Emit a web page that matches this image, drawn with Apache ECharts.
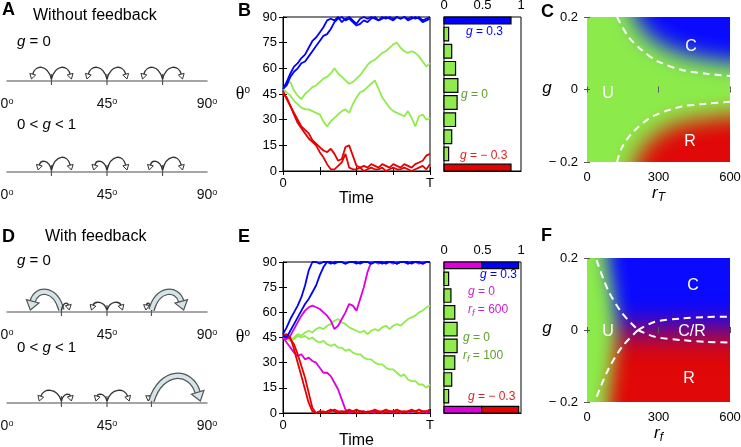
<!DOCTYPE html>
<html>
<head>
<meta charset="utf-8">
<script src="https://cdn.jsdelivr.net/npm/echarts@6/dist/echarts.min.js"></script>
<style>
  html, body { margin: 0; padding: 0; background: #fff; }
  #chart { width: 741px; height: 447px; }
</style>
</head>
<body>
<div id="chart"></div>
<script>
// ---- data ----
const TIME = [0, 0.025, 0.05, 0.075, 0.1, 0.125, 0.15, 0.175, 0.2, 0.225, 0.25, 0.275, 0.3, 0.325, 0.35, 0.375, 0.4, 0.425, 0.45, 0.475, 0.5,
  0.525, 0.55, 0.575, 0.6, 0.625, 0.65, 0.675, 0.7, 0.725, 0.75, 0.775, 0.8, 0.825, 0.85, 0.875, 0.9, 0.925, 0.95, 0.975, 1];

// panel B: without feedback
const B_BLUE_1 = [48, 52, 57, 61, 63, 66, 68, 72, 76, 78, 81, 84, 88, 89, 88, 90, 87, 89, 90, 88, 86, 89, 90, 89, 90, 89, 88, 90, 89, 90, 89, 90, 89, 90, 89, 90, 89, 90, 88, 89, 90];
const B_BLUE_2 = [48, 50, 55, 58, 60, 63, 64, 67, 70, 73, 76, 79, 80, 83, 87, 89, 90, 88, 89, 87, 85, 86, 88, 87, 89, 90, 88, 89, 90, 89, 88, 90, 89, 90, 88, 89, 90, 89, 87, 88, 89];
const B_GREEN_1 = [48, 51, 52, 47, 44, 42, 45, 47, 49, 50, 52, 54, 55, 57, 60, 57, 55, 53, 51, 52, 54, 56, 59, 62, 64, 65, 67, 69, 70, 72, 74, 75, 72, 70, 69, 70, 69, 67, 64, 61, 63];
const B_GREEN_2 = [48, 46, 44, 41, 39, 37, 36, 36, 35, 34, 33, 29, 26, 29, 31, 33, 35, 36, 34, 39, 43, 46, 47, 49, 51, 53, 48, 43, 40, 37, 35, 34, 33, 32, 35, 31, 26, 32, 33, 30, 31];
const B_RED_1 = [45, 43, 38, 34, 30, 26, 24, 22, 18, 16, 14, 12, 11, 13, 10, 6, 7, 14, 15, 9, 3, 2, 3, 2, 4, 3, 2, 4, 3, 2, 4, 3, 2, 4, 3, 2, 4, 5, 6, 9, 10];
const B_RED_2 = [47, 42, 38, 33, 28, 25, 22, 19, 17, 15, 11, 8, 4, 1, 1, 3, 5, 10, 2, 1, 1, 2, 0, 1, 2, 1, 1, 2, 0, 1, 2, 1, 1, 2, 1, 0, 1, 2, 3, 1, 4];

// panel E: with feedback
const E_BLUE_1 = [47, 51, 56, 60, 64, 69, 76, 85, 90, 90, 89, 90, 90, 89, 90, 90, 90, 89, 90, 90, 89, 90, 90, 90, 89, 90, 90, 89, 90, 90, 90, 89, 90, 90, 89, 90, 90, 90, 89, 90, 90];
const E_BLUE_2 = [46, 45, 49, 53, 57, 61, 65, 68, 72, 76, 82, 87, 90, 90, 89, 90, 90, 89, 90, 90, 90, 89, 90, 90, 89, 90, 90, 90, 89, 90, 90, 89, 90, 90, 90, 89, 90, 90, 89, 90, 90];
const E_MAG_1 = [45, 44, 46, 50, 54, 58, 61, 63, 64, 63, 62, 60, 58, 55, 50, 52, 56, 60, 65, 64, 61, 68, 75, 84, 90, 90, 89, 90, 90, 90, 89, 90, 90, 90, 89, 90, 90, 89, 90, 90, 90];
const E_MAG_2 = [45, 42, 39, 36, 34, 35, 32, 33, 31, 30, 27, 24, 24, 22, 18, 14, 8, 2, 0, 1, 0, 1, 1, 0, 1, 0, 1, 0, 1, 1, 0, 1, 0, 1, 0, 1, 1, 0, 1, 0, 1];
const E_GREEN_1 = [45, 44, 43, 45, 47, 46, 48, 49, 48, 50, 51, 50, 52, 53, 55, 56, 54, 53, 51, 50, 49, 48, 49, 47, 49, 50, 49, 51, 52, 50, 52, 53, 52, 54, 56, 57, 58, 60, 61, 63, 64];
const E_GREEN_2 = [45, 44, 43, 44, 46, 45, 46, 44, 45, 43, 42, 43, 41, 40, 41, 39, 39, 37, 38, 36, 35, 35, 33, 32, 32, 30, 29, 29, 27, 26, 26, 24, 22, 23, 20, 19, 19, 17, 17, 15, 17];
const E_RED_1 = [46, 47, 45, 38, 30, 22, 14, 6, 1, 0, 1, 0, 1, 2, 1, 0, 1, 1, 2, 1, 0, 1, 1, 0, 1, 2, 1, 1, 0, 1, 1, 2, 1, 0, 1, 1, 1, 2, 1, 1, 1];
const E_RED_2 = [47, 46, 44, 41, 35, 28, 21, 12, 3, 0, 1, 1, 0, 1, 2, 1, 1, 0, 1, 1, 2, 1, 0, 1, 1, 1, 0, 1, 2, 1, 1, 0, 1, 1, 1, 2, 1, 0, 1, 1, 2];

// final-angle histograms (bin centre in degrees, fraction)
const HIST_B_BIN = [90, 80, 70, 60, 50, 40, 30, 20, 10, 0];
const HIST_B_FROM = [0, 0, 0, 0, 0, 0, 0, 0, 0, 0];
const HIST_B_TO = [0.87, 0.06, 0.10, 0.15, 0.18, 0.17, 0.15, 0.10, 0.06, 0.87];
const HIST_E_BIN = [90, 90, 80, 70, 60, 50, 40, 30, 20, 10, 0, 0];
const HIST_E_FROM = [0, 0.49, 0, 0, 0, 0, 0, 0, 0, 0, 0, 0.49];
const HIST_E_TO = [0.49, 0.97, 0.06, 0.09, 0.14, 0.17, 0.17, 0.14, 0.10, 0.06, 0.49, 0.97];

// phase diagrams: dashed boundaries (r, g)
const C_TOP_R = [126, 173, 229, 299, 397, 509, 600];
const C_TOP_G = [0.2, 0.146, 0.109, 0.077, 0.054, 0.043, 0.037];
const C_BOT_R = [126, 145, 189, 273, 397, 500, 600];
const C_BOT_G = [-0.2, -0.162, -0.12, -0.075, -0.047, -0.039, -0.034];
const F_LU_R = [40, 88, 147, 214];
const F_LU_G = [0.194, 0.111, 0.047, 0];
const F_LD_R = [214, 147, 88, 38];
const F_LD_G = [0, -0.047, -0.111, -0.19];
const F_RU_R = [214, 285, 397, 500, 600];
const F_RU_G = [0, 0.023, 0.032, 0.036, 0.037];
const F_RD_R = [214, 285, 397, 500, 600];
const F_RD_G = [0, -0.019, -0.028, -0.033, -0.035];

// phase diagrams: half-colour edges of the coloured regions (r, g)
const C_BLUE_R = [190, 190, 215, 270, 350, 450, 600, 900, 900];
const C_BLUE_G = [0.5, 0.22, 0.18, 0.14, 0.11, 0.09, 0.075, 0.075, 0.5];
const C_RED_R = [190, 190, 215, 270, 350, 450, 600, 900, 900];
const C_RED_G = [-0.5, -0.22, -0.18, -0.135, -0.1, -0.085, -0.072, -0.072, -0.5];
const F_BLUE_R = [-300, 900, 900, -300];
const F_BLUE_G = [0, 0, 0.5, 0.5];
const F_GREEN_R = [-300, 82, 85, 110, 125, 110, 90, 85, -300];
const F_GREEN_G = [0.5, 0.5, 0.2, 0.1, 0, -0.1, -0.2, -0.5, -0.5];

// schematics: jump origin, landing angle, arc height, big arrow
const A_TICKS = [20, 45, 70];
const A_FROM = [20, 20, 45, 45, 70, 70];
const A1_TO = [11, 29, 36, 54, 61, 79];
const A1_H = [11, 11, 11, 11, 11, 11];
const A2_TO = [14, 29, 39, 54, 64, 79];
const A2_H = [8, 12, 8, 12, 8, 12];
const D_TICKS = [24.5, 45, 65];
const D_FROM = [24.5, 24.5, 45, 45, 65, 65];
const D1_TO = [10.5, 28, 38, 52, 62.5, 79.5];
const D1_H = [17, 6, 7, 7, 6, 17];
const D1_BIG = [1, 0, 0, 0, 0, 1];
const D2_TO = [14.5, 29, 40, 55, 63.5, 87];
const D2_H = [10, 6, 6, 10, 4, 24];
const D2_BIG = [0, 0, 0, 0, 0, 1];

// ---- styling ----
const FONT = 'Liberation Sans, Arial, sans-serif';
const BLUE = '#0000ff';
const GREEN = '#90ec4c';
const RED = '#e60000';
const MAG = '#dd00dd';
const MAP_GREEN = '#8ceb4b';
const MAP_BLUE = '#0a0aff';
const MAP_RED = '#e00808';

// axis indices (x and y share the same numbering)
const AX_B = 4, AX_B_HIST = 6, AX_C = 7, AX_E = 9, AX_E_HIST = 11, AX_F = 12;

const chart = echarts.init(document.getElementById('chart'));

const pairs = (xs, ys) => xs.map((x, i) => [x, ys[i]]);

// tick marks on the schematic lines
function tickRenderer(params, api) {
  const a = api.coord([api.value(0), -4]);
  const b = api.coord([api.value(0), 7]);
  return { type: 'line', shape: { x1: a[0], y1: a[1], x2: b[0], y2: b[1] }, style: { stroke: '#555', lineWidth: 1.2 } };
}

// curved jump arrows
function arcRenderer(params, api) {
  const from = api.value(0), to = api.value(1), h = api.value(2), big = api.value(3);
  const p0 = api.coord([from, 2]);
  const p1 = api.coord([to, 2]);
  const hp = (p0[1] - api.coord([from, 2 + h])[1]) * 4 / 3;
  const d = p1[0] - p0[0];
  const c1 = [p0[0] + 0.2 * d, p0[1] - hp];
  const c2 = [p1[0] - 0.2 * d, p1[1] - hp];
  let ux = p1[0] - c2[0], uy = p1[1] - c2[1];
  const len = Math.sqrt(ux * ux + uy * uy);
  ux /= len; uy /= len;
  const L = big ? 9 : 5, W = big ? 6.5 : 3;
  const bx = p1[0] - ux * L, by = p1[1] - uy * L;
  const head = [[p1[0], p1[1]], [bx - uy * W, by + ux * W], [bx + uy * W, by - ux * W]];
  const curve = { x1: p0[0], y1: p0[1], cpx1: c1[0], cpy1: c1[1], cpx2: c2[0], cpy2: c2[1], x2: bx, y2: by };
  const children = [];
  if (big) {
    children.push({ type: 'bezierCurve', shape: curve, style: { stroke: '#555', lineWidth: 6.5, fill: null } });
    children.push({ type: 'bezierCurve', shape: curve, style: { stroke: '#d3e5e9', lineWidth: 4, fill: null } });
    children.push({ type: 'polygon', shape: { points: head }, style: { fill: '#d3e5e9', stroke: '#555', lineWidth: 1.2 } });
  } else {
    children.push({ type: 'bezierCurve', shape: curve, style: { stroke: '#333', lineWidth: 1.4, fill: null } });
    children.push({ type: 'polygon', shape: { points: head }, style: { fill: '#fff', stroke: '#333', lineWidth: 1 } });
  }
  return { type: 'group', children };
}

const BAR_HALF = 4;
function histRenderer(colors) {
  return function (params, api) {
    const c = api.value(1);
    const p0 = api.coord([api.value(0), c + BAR_HALF]);
    const p1 = api.coord([api.value(2), c - BAR_HALF]);
    const cs = params.coordSys;
    const shape = echarts.graphic.clipRectByRect(
      { x: p0[0], y: p0[1], width: p1[0] - p0[0], height: p1[1] - p0[1] },
      { x: cs.x, y: cs.y, width: cs.width, height: cs.height });
    if (!shape) return;
    return { type: 'rect', shape, style: { fill: colors[params.dataIndex], stroke: '#000', lineWidth: 1.2 } };
  };
}

// soft-edged colour regions: polygon drawn off-canvas, only its blurred shadow lands in the plot
const SHIFT = 3000;
function regionRenderer(regions) {
  return function (params, api) {
    const reg = regions[params.dataIndex];
    const pts = reg.r.map((r, i) => {
      const p = api.coord([r, reg.g[i]]);
      return [p[0] - SHIFT, p[1]];
    });
    return {
      type: 'polygon', shape: { points: pts },
      style: { fill: reg.color, shadowColor: reg.color, shadowBlur: reg.blur, shadowOffsetX: SHIFT }
    };
  };
}
const regionsC = [
  { r: C_BLUE_R, g: C_BLUE_G, color: MAP_BLUE, blur: 22 },
  { r: C_RED_R, g: C_RED_G, color: MAP_RED, blur: 22 }
];
const regionsF = [
  { r: F_BLUE_R, g: F_BLUE_G, color: MAP_BLUE, blur: 30 },
  { r: F_GREEN_R, g: F_GREEN_G, color: MAP_GREEN, blur: 18 }
];

// ---- grids & axes ----
const boxed = { show: true, borderColor: '#000', borderWidth: 1, backgroundColor: 'transparent' };
const grids = [
  { left: 7, top: 41, width: 200, height: 50 },
  { left: 7, top: 132, width: 200, height: 50 },
  { left: 7, top: 272, width: 200, height: 50 },
  { left: 7, top: 363, width: 200, height: 50 },
  Object.assign({ left: 283, top: 17, width: 147, height: 154 }, boxed),
  Object.assign({ left: 444, top: 17, width: 77, height: 154 }, boxed),
  { left: 587, top: 17, width: 143, height: 145, show: true, borderWidth: 0, backgroundColor: MAP_GREEN },
  Object.assign({ left: 283, top: 262, width: 147, height: 151 }, boxed),
  Object.assign({ left: 444, top: 262, width: 77, height: 151 }, boxed),
  { left: 587, top: 258, width: 143, height: 144, show: true, borderWidth: 0, backgroundColor: MAP_RED }
];
grids.forEach(g => { g.outerBoundsMode = 'none'; g.containLabel = false; });

const DEG_RICH = {
  n: { fontSize: 14, color: '#111', fontFamily: FONT },
  o: { fontSize: 9, color: '#111', fontFamily: FONT, verticalAlign: 'top' }
};
const inTick = { show: true, inside: true, length: 4, lineStyle: { color: '#000', width: 1 } };
const noSplit = { show: false };

function schemX(i) {
  return {
    type: 'value', gridIndex: i, min: 0, max: 90, interval: 45,
    axisLine: { onZero: true, lineStyle: { color: '#888', width: 1.5 } },
    axisTick: { show: false }, splitLine: noSplit,
    axisLabel: { margin: 6, formatter: v => '{n|' + v + '}{o|o}', rich: DEG_RICH }
  };
}
function schemY(i) {
  return { type: 'value', gridIndex: i, min: -10, max: 40, show: false, splitLine: noSplit };
}
function trajX(i, top) {
  return {
    type: 'value', gridIndex: i, position: top ? 'top' : 'bottom', min: 0, max: 1, interval: 0.25,
    axisLine: { show: true, lineStyle: { color: '#000', width: 1 } },
    axisTick: inTick, splitLine: noSplit,
    axisLabel: top ? { show: false } : {
      margin: 6, fontSize: 13, color: '#000', fontFamily: FONT,
      formatter: v => (v === 0 ? '0' : (v === 1 ? 'T' : ''))
    },
    name: top ? '' : 'Time', nameLocation: 'middle', nameGap: 17,
    nameTextStyle: { fontSize: 16, color: '#000', fontFamily: FONT }
  };
}
function trajY(i, right) {
  return {
    type: 'value', gridIndex: i, position: right ? 'right' : 'left', min: 0, max: 90, interval: 15,
    axisLine: { show: true, lineStyle: { color: '#000', width: 1 } },
    axisTick: inTick, splitLine: noSplit,
    axisLabel: right ? { show: false } : { margin: 6, fontSize: 13, color: '#000', fontFamily: FONT },
    name: right ? '' : '{t|θ}{o|o}', nameLocation: 'middle', nameRotate: 0, nameGap: 33,
    nameTextStyle: {
      rich: {
        t: { fontSize: 18, color: '#000', fontFamily: 'Liberation Serif, serif' },
        o: { fontSize: 10, color: '#000', fontFamily: FONT, verticalAlign: 'top' }
      }
    }
  };
}
function histX(i) {
  return {
    type: 'value', gridIndex: i, position: 'top', min: 0, max: 1, interval: 0.5,
    axisLine: { show: true, lineStyle: { color: '#000' } }, axisTick: { show: false }, splitLine: noSplit,
    axisLabel: { margin: 5, fontSize: 13, color: '#000', fontFamily: FONT }
  };
}
function histY(i) {
  return { type: 'value', gridIndex: i, min: 0, max: 90, show: false, splitLine: noSplit };
}
function mapX(i, top, sub, gap) {
  return {
    type: 'value', gridIndex: i, position: top ? 'top' : 'bottom', min: 0, max: 600, interval: 300, z: 5,
    axisLine: { show: false }, axisTick: { show: true, inside: true, length: 3, lineStyle: { color: '#555' } },
    splitLine: noSplit,
    axisLabel: top ? { show: false } : { margin: 9, fontSize: 13, color: '#000', fontFamily: FONT },
    name: top ? '' : '{i|r}{s|' + sub + '}', nameLocation: 'middle', nameGap: gap,
    nameTextStyle: {
      rich: {
        i: { fontSize: 17, fontStyle: 'italic', color: '#000', fontFamily: FONT },
        s: { fontSize: 12, fontStyle: 'italic', color: '#000', fontFamily: FONT, verticalAlign: 'bottom', padding: [8, 0, 0, 0] }
      }
    }
  };
}
function mapY(i, right) {
  return {
    type: 'value', gridIndex: i, position: right ? 'right' : 'left', min: -0.2, max: 0.2, interval: 0.2, z: 5,
    axisLine: { show: false }, axisTick: { show: true, inside: true, length: 3, lineStyle: { color: '#555' } },
    splitLine: noSplit,
    axisLabel: right ? { show: false } : {
      margin: 9, fontSize: 13, color: '#000', fontFamily: FONT,
      formatter: v => (Math.abs(v) < 1e-9 ? '0' : (v > 0 ? '0.2' : '\u2212 0.2'))
    }
  };
}

const xAxes = [schemX(0), schemX(1), schemX(2), schemX(3),
  trajX(4, false), trajX(4, true), histX(5), mapX(6, false, 'T', 20), mapX(6, true),
  trajX(7, false), trajX(7, true), histX(8), mapX(9, false, 'f', 14), mapX(9, true)];
const yAxes = [schemY(0), schemY(1), schemY(2), schemY(3),
  trajY(4, false), trajY(4, true), histY(5), mapY(6, false), mapY(6, true),
  trajY(7, false), trajY(7, true), histY(8), mapY(9, false), mapY(9, true)];

// ---- series ----
const series = [];
function schematic(ax, ticks, from, to, h, big) {
  series.push({ type: 'custom', xAxisIndex: ax, yAxisIndex: ax, silent: true, renderItem: tickRenderer,
    data: ticks.map(t => [t, 0]) });
  series.push({ type: 'custom', xAxisIndex: ax, yAxisIndex: ax, silent: true, renderItem: arcRenderer, clip: false,
    data: from.map((f, i) => [f, to[i], h[i], big ? big[i] : 0]) });
}
schematic(0, A_TICKS, A_FROM, A1_TO, A1_H, null);
schematic(1, A_TICKS, A_FROM, A2_TO, A2_H, null);
schematic(2, D_TICKS, D_FROM, D1_TO, D1_H, D1_BIG);
schematic(3, D_TICKS, D_FROM, D2_TO, D2_H, D2_BIG);

function walk(ax, ys, color) {
  series.push({ type: 'line', xAxisIndex: ax, yAxisIndex: ax, data: pairs(TIME, ys), symbol: 'none', silent: true,
    lineStyle: { color, width: 1.8 } });
}
walk(AX_B, B_GREEN_1, GREEN); walk(AX_B, B_GREEN_2, GREEN);
walk(AX_B, B_RED_1, RED); walk(AX_B, B_RED_2, RED);
walk(AX_B, B_BLUE_1, BLUE); walk(AX_B, B_BLUE_2, BLUE);
walk(AX_E, E_GREEN_1, GREEN); walk(AX_E, E_GREEN_2, GREEN);
walk(AX_E, E_MAG_1, MAG); walk(AX_E, E_MAG_2, MAG);
walk(AX_E, E_RED_1, RED); walk(AX_E, E_RED_2, RED);
walk(AX_E, E_BLUE_1, BLUE); walk(AX_E, E_BLUE_2, BLUE);

const histColorsB = [BLUE, GREEN, GREEN, GREEN, GREEN, GREEN, GREEN, GREEN, GREEN, RED];
const histColorsE = [MAG, BLUE, GREEN, GREEN, GREEN, GREEN, GREEN, GREEN, GREEN, GREEN, MAG, RED];
series.push({ type: 'custom', xAxisIndex: AX_B_HIST, yAxisIndex: AX_B_HIST, silent: true, renderItem: histRenderer(histColorsB),
  data: HIST_B_BIN.map((c, i) => [HIST_B_FROM[i], c, HIST_B_TO[i]]) });
series.push({ type: 'custom', xAxisIndex: AX_E_HIST, yAxisIndex: AX_E_HIST, silent: true, renderItem: histRenderer(histColorsE),
  data: HIST_E_BIN.map((c, i) => [HIST_E_FROM[i], c, HIST_E_TO[i]]) });

series.push({ type: 'custom', xAxisIndex: AX_C, yAxisIndex: AX_C, silent: true, clip: true, renderItem: regionRenderer(regionsC),
  data: regionsC.map((r, i) => [i, 0]) });
series.push({ type: 'custom', xAxisIndex: AX_F, yAxisIndex: AX_F, silent: true, clip: true, renderItem: regionRenderer(regionsF),
  data: regionsF.map((r, i) => [i, 0]) });

function dashed(ax, rs, gs) {
  series.push({ type: 'line', xAxisIndex: ax, yAxisIndex: ax, data: pairs(rs, gs), symbol: 'none', silent: true,
    smooth: 0.3, lineStyle: { color: '#fff', width: 2, type: [7, 5] } });
}
dashed(AX_C, C_TOP_R, C_TOP_G); dashed(AX_C, C_BOT_R, C_BOT_G);
dashed(AX_F, F_LU_R, F_LU_G); dashed(AX_F, F_LD_R, F_LD_G);
dashed(AX_F, F_RU_R, F_RU_G); dashed(AX_F, F_RD_R, F_RD_G);

// ---- text ----
function txt(x, y, text, extra) {
  return { type: 'text', x, y, silent: true, z: 100,
    style: Object.assign({ text, fill: '#000', fontSize: 15, fontFamily: FONT, align: 'left', verticalAlign: 'middle' }, extra || {}) };
}
function gLabel(x, y, text, color, size) {
  const s = size || 12;
  return txt(x, y, text, {
    fill: color, fontSize: s,
    rich: {
      i: { fontStyle: 'italic', fontSize: s, fontFamily: FONT, fill: color, color },
      s: { fontStyle: 'italic', fontSize: s - 3, fontFamily: FONT, fill: color, color, verticalAlign: 'bottom', padding: [6, 0, 0, 0] }
    }
  });
}
const bold = { fontWeight: 'bold', fontSize: 18 };
const white = { fill: '#fff', fontSize: 16, align: 'center' };
const italicG = { fontStyle: 'italic', fontSize: 17, align: 'center' };
const graphics = [
  txt(2, 10, 'A', bold), txt(33, 16, 'Without feedback', { fontSize: 16 }),
  gLabel(17, 42, '{i|g} = 0', '#000', 15), gLabel(17, 125, '0 < {i|g} < 1', '#000', 15),
  txt(2, 237, 'D', bold), txt(45, 237, 'With feedback', { fontSize: 16 }),
  gLabel(17, 261, '{i|g} = 0', '#000', 15), gLabel(17, 348, '0 < {i|g} < 1', '#000', 15),
  txt(238, 11, 'B', bold), txt(238, 237, 'E', bold),
  txt(541, 12, 'C', bold), txt(541, 236, 'F', bold),
  txt(547, 88, 'g', italicG), txt(547, 328, 'g', italicG),
  gLabel(466, 32, '{i|g} = 0.3', BLUE), gLabel(461, 95, '{i|g} = 0', '#5e9e2c'), gLabel(460, 156, '{i|g} = \u2212 0.3', '#e02020'),
  gLabel(480, 275, '{i|g} = 0.3', BLUE),
  gLabel(468, 292, '{i|g} = 0', '#cc22cc'), gLabel(468, 310, '{i|r}{s|f} = 600', '#cc22cc'),
  gLabel(463, 338, '{i|g} = 0', '#5e9e2c'), gLabel(463, 356, '{i|r}{s|f} = 100', '#5e9e2c'),
  gLabel(468, 397, '{i|g} = \u2212 0.3', '#e02020'),
  txt(691, 47, 'C', white), txt(608, 94, 'U', white), txt(690, 142, 'R', white),
  txt(693, 286, 'C', white), txt(608, 332, 'U', white), txt(692, 332, 'C/R', white), txt(689, 379, 'R', white)
];

chart.setOption({
  animation: false,
  backgroundColor: '#fff',
  textStyle: { fontFamily: FONT },
  grid: grids,
  xAxis: xAxes,
  yAxis: yAxes,
  series,
  graphic: graphics
});
</script>
</body>
</html>
